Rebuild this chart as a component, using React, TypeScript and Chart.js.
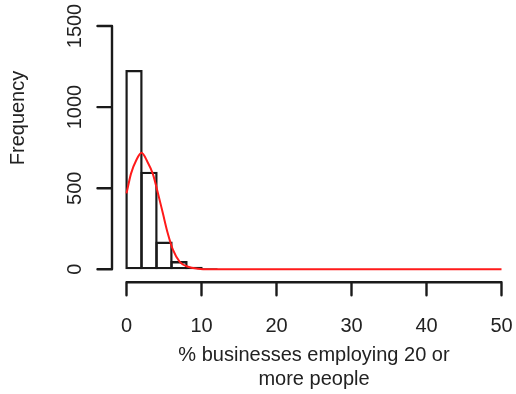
import React, { useEffect, useRef } from "react";
import { Chart, registerables } from "chart.js";

Chart.register(...registerables);

// Histogram bins (left edges) and counts
const binEdges = [0, 2, 4, 6, 8, 10, 12];
const binCounts = [1229, 602, 171, 51, 16, 6];

// Density curve (scaled to frequency)
const curveX = [0, 0.6, 1.3, 2, 2.8, 3.5, 4.2, 4.85, 5.5, 6.2, 7.1, 8.2, 9.5, 11, 13, 50];
const curveY = [468, 590, 672, 718, 662, 590, 468, 345, 222, 119, 46, 16, 4, 0, 0, 0];

// Axis ticks
const xTicks = [0, 10, 20, 30, 40, 50];
const yTicks = [0, 500, 1000, 1500];

const xTitleLines = ["% businesses employing 20 or", "more people"];
const yTitle = "Frequency";

const FONT = '"Liberation Sans", Arial, Helvetica, sans-serif';
const INK = "#1a1a1a";
const LW = 2.4;

const rAxesPlugin = {
  id: "rAxes",
  afterDraw(chart: any) {
    const ctx = chart.ctx as CanvasRenderingContext2D;
    const xs = chart.scales.x;
    const ys = chart.scales.y;
    ctx.save();
    ctx.strokeStyle = INK;
    ctx.fillStyle = "#222";
    ctx.lineWidth = LW;
    ctx.lineCap = "round";
    ctx.font = `20px ${FONT}`;

    // X axis
    const axY = ys.getPixelForValue(0) + 13;
    const x0 = xs.getPixelForValue(xTicks[0]);
    const x1 = xs.getPixelForValue(xTicks[xTicks.length - 1]);
    ctx.beginPath();
    ctx.moveTo(x0, axY);
    ctx.lineTo(x1, axY);
    xTicks.forEach((t) => {
      const px = xs.getPixelForValue(t);
      ctx.moveTo(px, axY);
      ctx.lineTo(px, axY + 13);
    });
    ctx.stroke();
    ctx.textAlign = "center";
    ctx.textBaseline = "alphabetic";
    xTicks.forEach((t) => {
      ctx.fillText(String(t), xs.getPixelForValue(t), axY + 50);
    });
    const cx = (x0 + x1) / 2;
    xTitleLines.forEach((line, i) => {
      ctx.fillText(line, cx, axY + 79 + i * 24);
    });

    // Y axis
    const axX = xs.getPixelForValue(0) - 14.5;
    const y0 = ys.getPixelForValue(yTicks[0]);
    const y1 = ys.getPixelForValue(yTicks[yTicks.length - 1]);
    ctx.beginPath();
    ctx.moveTo(axX, y0);
    ctx.lineTo(axX, y1);
    yTicks.forEach((t) => {
      const py = ys.getPixelForValue(t);
      ctx.moveTo(axX, py);
      ctx.lineTo(axX - 14.5, py);
    });
    ctx.stroke();
    yTicks.forEach((t) => {
      const py = ys.getPixelForValue(t);
      ctx.save();
      ctx.translate(axX - 31, py);
      ctx.rotate(-Math.PI / 2);
      ctx.textAlign = "center";
      ctx.textBaseline = "alphabetic";
      ctx.fillText(String(t), 0, 0);
      ctx.restore();
    });
    ctx.save();
    ctx.translate(24, 118);
    ctx.rotate(-Math.PI / 2);
    ctx.textAlign = "center";
    ctx.textBaseline = "alphabetic";
    ctx.fillText(yTitle, 0, 0);
    ctx.restore();

    ctx.restore();
  },
};

export default function App() {
  const canvasRef = useRef<HTMLCanvasElement | null>(null);

  useEffect(() => {
    if (!canvasRef.current) return;
    const barData = binCounts.map((c, i) => ({
      x: (binEdges[i] + binEdges[i + 1]) / 2,
      y: c,
    }));
    const lineData = curveX.map((x, i) => ({ x, y: curveY[i] }));

    const chart = new Chart(canvasRef.current, {
      type: "bar",
      data: {
        datasets: [
          {
            type: "line",
            data: lineData,
            borderColor: "#ff1a1a",
            borderWidth: 2,
            pointRadius: 0,
            cubicInterpolationMode: "monotone",
            fill: false,
            order: 0,
            clip: false,
          } as any,
          {
            type: "bar",
            data: barData,
            backgroundColor: "rgba(0,0,0,0)",
            borderColor: INK,
            borderWidth: LW,
            borderSkipped: false,
            barPercentage: (15 + LW) / 15,
            categoryPercentage: 1,
            order: 1,
            clip: false,
          } as any,
        ],
      },
      options: {
        animation: false,
        responsive: false,
        devicePixelRatio: 1,
        layout: {
          padding: { left: 126.5, right: 14.5, top: 26, bottom: 124.7 },
        },
        scales: {
          x: { type: "linear", min: 0, max: 50, offset: false, display: false },
          y: { type: "linear", min: 0, max: 1500, display: false },
        },
        plugins: {
          legend: { display: false },
          tooltip: { enabled: false },
        },
        events: [],
      },
      plugins: [rAxesPlugin],
    });
    return () => chart.destroy();
  }, []);

  return (
    <div style={{ position: "fixed", left: 0, top: 0, width: 516, height: 394, background: "#fff" }}>
      <canvas ref={canvasRef} width={516} height={394} />
    </div>
  );
}
